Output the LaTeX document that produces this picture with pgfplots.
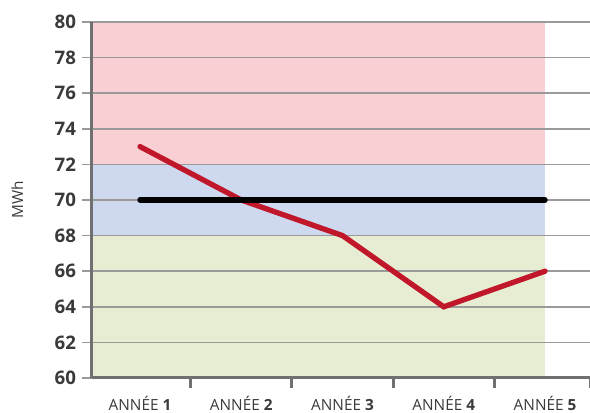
\documentclass[border=0pt]{standalone}
\usepackage{fontspec}
\setmainfont{Open Sans}
\usepackage{pgfplots}
\usetikzlibrary{calc}
\pgfplotsset{compat=1.18}
\definecolor{bandred}{HTML}{F8CFD2}
\definecolor{bandblue}{HTML}{CED9EF}
\definecolor{bandgreen}{HTML}{E7EDD3}
\definecolor{linered}{HTML}{C0182A}
\definecolor{spine}{HTML}{707070}
\definecolor{gridc}{HTML}{9A9A9A}
\definecolor{txt}{HTML}{3A3A3A}
\begin{document}
\begin{tikzpicture}
\begin{axis}[
  name=ax,
  set layers,
  scale only axis,
  width=373.5pt, height=267pt,
  xmin=-0.474, xmax=4.444,
  ymin=60, ymax=80,
  ytick={60,62,...,80},
  xtick={0,1,2,3,4},
  xticklabels={{ANNÉE \textbf{1}},{ANNÉE \textbf{2}},{ANNÉE \textbf{3}},{ANNÉE \textbf{4}},{ANNÉE \textbf{5}}},
  axis x line*=bottom, axis y line*=left,
  axis line style={draw=spine, line width=2.25pt},
  ymajorgrids=true,
  grid style={draw=gridc, line width=1.1pt},
  tick align=outside,
  major tick length=7.5pt,
  ytick style={draw=gridc, line width=1.1pt},
  xtick style={draw=none},
  extra x ticks={0.5,1.5,2.5,3.5,4.444},
  extra x tick labels={},
  extra x tick style={grid=none, xtick style={draw=spine, line width=2.25pt}},
  /pgf/number format/assume math mode=true,
  yticklabel style={font=\fontsize{14}{16}\selectfont\bfseries, text=txt, xshift=-1pt},
  xticklabel style={font=\fontsize{11.5}{13}\selectfont, text=txt, anchor=base, yshift=-17pt},
  ylabel={MWh},
  every axis y label/.style={at={(axis description cs:0,0.5)}, xshift=-56pt, rotate=90, anchor=center},
  ylabel style={font=\fontsize{11.5}{13}\selectfont, text=txt},
  clip=false,
]
\addplot[draw=none, fill=bandred, on layer=axis background] coordinates {(-0.474,72) (4,72) (4,80) (-0.474,80)} -- cycle;
\addplot[draw=none, fill=bandblue, on layer=axis background] coordinates {(-0.474,68) (4,68) (4,72) (-0.474,72)} -- cycle;
\addplot[draw=none, fill=bandgreen, on layer=axis background] coordinates {(-0.474,60) (4,60) (4,68) (-0.474,68)} -- cycle;
\addplot[linered, line width=4pt, line cap=round, line join=miter] coordinates {(0,73) (1,70) (2,68) (3,64) (4,66)};
\addplot[black, line width=4pt, line cap=round] coordinates {(0,70) (4,70)};
\end{axis}
\pgfresetboundingbox
\path[use as bounding box] ($(ax.south west)+(-69pt,-26pt)$) rectangle ($(ax.north east)+(0pt,16.5pt)$);
\end{tikzpicture}
\end{document}
